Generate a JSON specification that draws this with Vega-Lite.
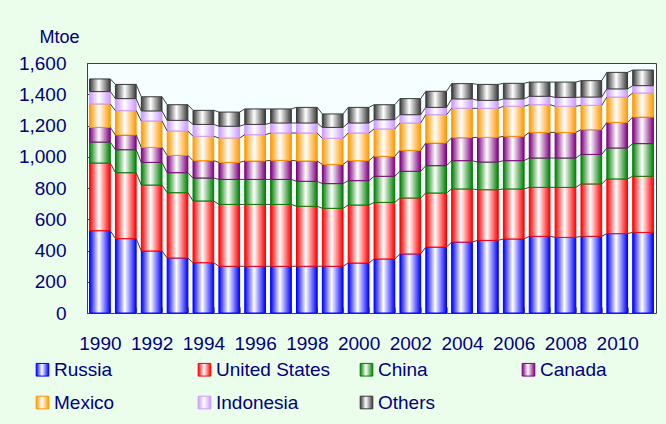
{
  "$schema": "https://vega.github.io/schema/vega-lite/v6.json",
  "width": 569,
  "height": 250,
  "autosize": "none",
  "padding": {"left": 87, "top": 63, "right": 10, "bottom": 111},
  "background": "#EBFEEB",
  "config": {
    "font": "Liberation Sans",
    "view": {"stroke": "#404040", "strokeWidth": 1, "fill": "#F5FFFF"},
    "axis": {"labelOverlap": false, "labelSeparation": 0, "labelBound": false},
    "axisY": {"labelOverlap": false}
  },
  "data": {"values": [
    {"year":1990,"series":"Russia","value":527},{"year":1990,"series":"United States","value":433},{"year":1990,"series":"China","value":134},{"year":1990,"series":"Canada","value":94},{"year":1990,"series":"Mexico","value":150},{"year":1990,"series":"Indonesia","value":79},{"year":1990,"series":"Others","value":81},
    {"year":1991,"series":"Russia","value":476},{"year":1991,"series":"United States","value":422},{"year":1991,"series":"China","value":147},{"year":1991,"series":"Canada","value":94},{"year":1991,"series":"Mexico","value":156},{"year":1991,"series":"Indonesia","value":77},{"year":1991,"series":"Others","value":91},
    {"year":1992,"series":"Russia","value":397},{"year":1992,"series":"United States","value":422},{"year":1992,"series":"China","value":145},{"year":1992,"series":"Canada","value":96},{"year":1992,"series":"Mexico","value":169},{"year":1992,"series":"Indonesia","value":64},{"year":1992,"series":"Others","value":91},
    {"year":1993,"series":"Russia","value":352},{"year":1993,"series":"United States","value":418},{"year":1993,"series":"China","value":128},{"year":1993,"series":"Canada","value":111},{"year":1993,"series":"Mexico","value":156},{"year":1993,"series":"Indonesia","value":68},{"year":1993,"series":"Others","value":100},
    {"year":1994,"series":"Russia","value":322},{"year":1994,"series":"United States","value":395},{"year":1994,"series":"China","value":147},{"year":1994,"series":"Canada","value":111},{"year":1994,"series":"Mexico","value":156},{"year":1994,"series":"Indonesia","value":76},{"year":1994,"series":"Others","value":90},
    {"year":1995,"series":"Russia","value":299},{"year":1995,"series":"United States","value":396},{"year":1995,"series":"China","value":160},{"year":1995,"series":"Canada","value":109},{"year":1995,"series":"Mexico","value":156},{"year":1995,"series":"Indonesia","value":75},{"year":1995,"series":"Others","value":91},
    {"year":1996,"series":"Russia","value":299},{"year":1996,"series":"United States","value":396},{"year":1996,"series":"China","value":160},{"year":1996,"series":"Canada","value":118},{"year":1996,"series":"Mexico","value":168},{"year":1996,"series":"Indonesia","value":66},{"year":1996,"series":"Others","value":99},
    {"year":1997,"series":"Russia","value":299},{"year":1997,"series":"United States","value":396},{"year":1997,"series":"China","value":160},{"year":1997,"series":"Canada","value":122},{"year":1997,"series":"Mexico","value":175},{"year":1997,"series":"Indonesia","value":64},{"year":1997,"series":"Others","value":90},
    {"year":1998,"series":"Russia","value":299},{"year":1998,"series":"United States","value":384},{"year":1998,"series":"China","value":160},{"year":1998,"series":"Canada","value":130},{"year":1998,"series":"Mexico","value":179},{"year":1998,"series":"Indonesia","value":64},{"year":1998,"series":"Others","value":100},
    {"year":1999,"series":"Russia","value":299},{"year":1999,"series":"United States","value":371},{"year":1999,"series":"China","value":158},{"year":1999,"series":"Canada","value":123},{"year":1999,"series":"Mexico","value":167},{"year":1999,"series":"Indonesia","value":70},{"year":1999,"series":"Others","value":86},
    {"year":2000,"series":"Russia","value":320},{"year":2000,"series":"United States","value":371},{"year":2000,"series":"China","value":156},{"year":2000,"series":"Canada","value":128},{"year":2000,"series":"Mexico","value":177},{"year":2000,"series":"Indonesia","value":64},{"year":2000,"series":"Others","value":100},
    {"year":2001,"series":"Russia","value":346},{"year":2001,"series":"United States","value":362},{"year":2001,"series":"China","value":167},{"year":2001,"series":"Canada","value":128},{"year":2001,"series":"Mexico","value":175},{"year":2001,"series":"Indonesia","value":59},{"year":2001,"series":"Others","value":96},
    {"year":2002,"series":"Russia","value":378},{"year":2002,"series":"United States","value":358},{"year":2002,"series":"China","value":171},{"year":2002,"series":"Canada","value":134},{"year":2002,"series":"Mexico","value":175},{"year":2002,"series":"Indonesia","value":53},{"year":2002,"series":"Others","value":103},
    {"year":2003,"series":"Russia","value":422},{"year":2003,"series":"United States","value":346},{"year":2003,"series":"China","value":175},{"year":2003,"series":"Canada","value":145},{"year":2003,"series":"Mexico","value":181},{"year":2003,"series":"Indonesia","value":47},{"year":2003,"series":"Others","value":103},
    {"year":2004,"series":"Russia","value":454},{"year":2004,"series":"United States","value":340},{"year":2004,"series":"China","value":181},{"year":2004,"series":"Canada","value":147},{"year":2004,"series":"Mexico","value":188},{"year":2004,"series":"Indonesia","value":60},{"year":2004,"series":"Others","value":98},
    {"year":2005,"series":"Russia","value":465},{"year":2005,"series":"United States","value":324},{"year":2005,"series":"China","value":177},{"year":2005,"series":"Canada","value":158},{"year":2005,"series":"Mexico","value":186},{"year":2005,"series":"Indonesia","value":51},{"year":2005,"series":"Others","value":102},
    {"year":2006,"series":"Russia","value":474},{"year":2006,"series":"United States","value":320},{"year":2006,"series":"China","value":181},{"year":2006,"series":"Canada","value":156},{"year":2006,"series":"Mexico","value":192},{"year":2006,"series":"Indonesia","value":47},{"year":2006,"series":"Others","value":100},
    {"year":2007,"series":"Russia","value":491},{"year":2007,"series":"United States","value":313},{"year":2007,"series":"China","value":188},{"year":2007,"series":"Canada","value":164},{"year":2007,"series":"Mexico","value":177},{"year":2007,"series":"Indonesia","value":54},{"year":2007,"series":"Others","value":91},
    {"year":2008,"series":"Russia","value":484},{"year":2008,"series":"United States","value":320},{"year":2008,"series":"China","value":188},{"year":2008,"series":"Canada","value":164},{"year":2008,"series":"Mexico","value":167},{"year":2008,"series":"Indonesia","value":57},{"year":2008,"series":"Others","value":98},
    {"year":2009,"series":"Russia","value":491},{"year":2009,"series":"United States","value":335},{"year":2009,"series":"China","value":189},{"year":2009,"series":"Canada","value":158},{"year":2009,"series":"Mexico","value":156},{"year":2009,"series":"Indonesia","value":53},{"year":2009,"series":"Others","value":105},
    {"year":2010,"series":"Russia","value":508},{"year":2010,"series":"United States","value":350},{"year":2010,"series":"China","value":198},{"year":2010,"series":"Canada","value":164},{"year":2010,"series":"Mexico","value":162},{"year":2010,"series":"Indonesia","value":52},{"year":2010,"series":"Others","value":106},
    {"year":2011,"series":"Russia","value":516},{"year":2011,"series":"United States","value":359},{"year":2011,"series":"China","value":209},{"year":2011,"series":"Canada","value":170},{"year":2011,"series":"Mexico","value":154},{"year":2011,"series":"Indonesia","value":47},{"year":2011,"series":"Others","value":100}
  ]},
  "transform": [
    {"calculate": "indexof(['Russia','United States','China','Canada','Mexico','Indonesia','Others'], datum.series)", "as": "k"},
    {"stack": "value", "groupby": ["year"], "sort": [{"field": "k", "order": "ascending"}], "as": ["v0", "v1"]}
  ],
  "encoding": {
    "x": {
      "field": "year", "type": "ordinal",
      "scale": {"paddingInner": 0.2, "paddingOuter": 0.1},
      "axis": {
        "title": null, "labelAngle": 0, "labelFontSize": 19, "labelColor": "#000080",
        "labelExpr": "datum.value % 2 == 0 ? datum.label : ''",
        "tickBand": "extent", "tickSize": -6, "tickColor": "#808080",
        "labelPadding": 27, "domain": false, "labelOverlap": false
      }
    },
    "y": {
      "field": "v1", "type": "quantitative",
      "scale": {"domain": [0, 1600], "nice": false},
      "axis": {
        "values": [0, 200, 400, 600, 800, 1000, 1200, 1400, 1600],
        "format": ",d", "grid": false, "labelFontSize": 19, "labelColor": "#000080",
        "labelOverlap": false,
        "tickSize": -7, "tickColor": "#404040", "labelPadding": 28,
        "domainColor": "#404040",
        "title": "Mtoe", "titleAngle": 0, "titleFontSize": 18, "titleFontWeight": "normal",
        "titleColor": "#000080", "titleAlign": "left", "titleBaseline": "middle",
        "titleX": -48, "titleY": -26
      }
    }
  },
  "layer": [
    {
      "mark": {
        "type": "bar", "strokeWidth": 1,
        "fill": {"expr": "{gradient:'linear',x1:0,y1:0,x2:1,y2:0,stops:[{offset:0,color:{'Russia':'#0000FF','United States':'#FF0000','China':'#008000','Canada':'#800080','Mexico':'#FF9900','Indonesia':'#CC99FF','Others':'#383838'}[datum.series||datum.value]},{offset:0.45,color:'#FFFFFF'},{offset:1,color:{'Russia':'#0000FF','United States':'#FF0000','China':'#008000','Canada':'#800080','Mexico':'#FF9900','Indonesia':'#CC99FF','Others':'#383838'}[datum.series||datum.value]}]}"}
      },
      "encoding": {
        "y2": {"field": "v0"},
        "stroke": {
          "field": "series", "type": "nominal",
          "scale": {
            "domain": ["Russia", "United States", "China", "Canada", "Mexico", "Indonesia", "Others"],
            "range": ["#0000FF", "#FF0000", "#008000", "#800080", "#FF9900", "#CC99FF", "#383838"]
          },
          "legend": {
            "title": null, "orient": "none", "direction": "horizontal", "legendX": -54, "legendY": 297,
            "columns": 4, "columnPadding": 26, "rowPadding": 13, "gridAlign": "all",
            "labelFontSize": 19, "labelColor": "#000080", "labelOffset": 2,
            "symbolType": "square", "symbolSize": 160, "symbolStrokeWidth": 1
          }
        }
      }
    },
    {
      "transform": [
        {"window": [{"op": "lead", "field": "v1", "as": "nv1"}, {"op": "lead", "field": "year", "as": "nyear"}], "groupby": ["series"], "sort": [{"field": "year", "order": "ascending"}]},
        {"filter": "datum.nyear != null"}
      ],
      "mark": {"type": "rule", "color": "#404040", "strokeWidth": 1, "xOffset": 10.35, "x2Offset": -10.35},
      "encoding": {
        "x2": {"field": "nyear"},
        "y2": {"field": "nv1"}
      }
    }
  ]
}
